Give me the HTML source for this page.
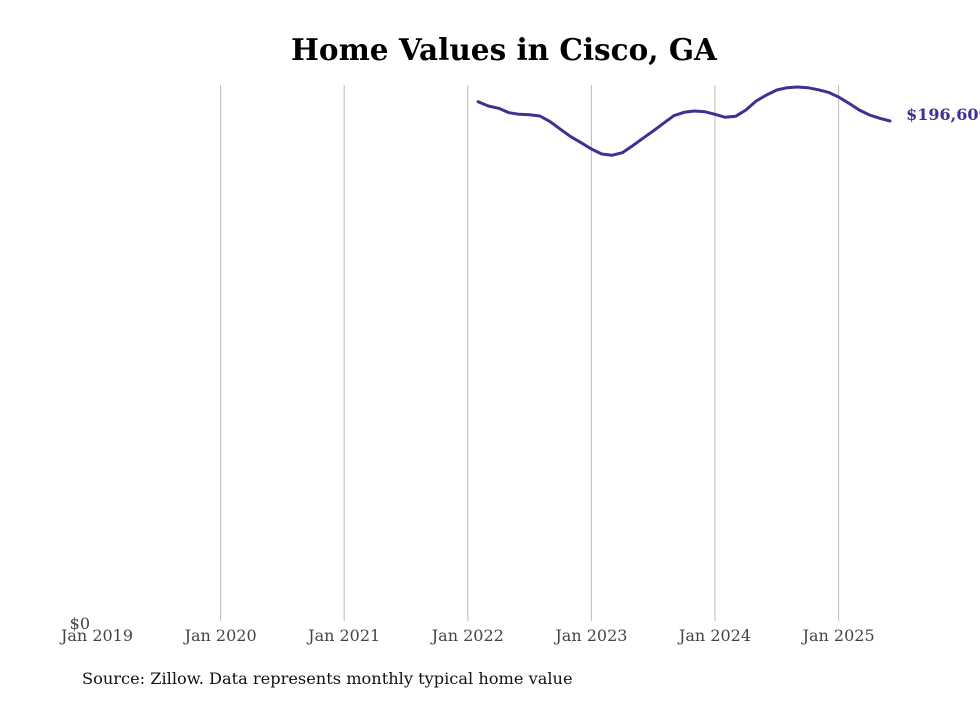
<!DOCTYPE html>
<html><head><meta charset="utf-8"><style>
body{margin:0;background:#fff;}
svg text{font-family:"DejaVu Serif","Liberation Serif",serif;}
</style></head><body>
<svg id="chart" width="980" height="699" viewBox="0 0 980 699" xmlns="http://www.w3.org/2000/svg">
<text x="504" y="60" text-anchor="middle" font-size="29.5" font-weight="bold" fill="#000">Home Values in Cisco, GA</text>
<g id="grid"></g>
<g id="xticks"></g>
<text x="90" y="629" text-anchor="end" font-size="16" fill="#444">$0</text>
<path id="line" fill="none" stroke="#3b3293" stroke-width="3" stroke-linejoin="round" stroke-linecap="round"/>
<text id="endlabel" font-size="16" font-weight="bold" fill="#3b3293"></text>
<text x="82" y="684" font-size="16.2" fill="#111">Source: Zillow. Data represents monthly typical home value</text>
</svg>
<script>
const tickLabels = ["Jan 2019","Jan 2020","Jan 2021","Jan 2022","Jan 2023","Jan 2024","Jan 2025"];
const startMonthIndex = 37; // Feb 2022, months since Jan 2019
const values = [204190,202500,201590,199860,199230,199080,198570,196320,193340,190430,188070,185590,183620,183110,184140,186890,189800,192670,195700,198690,200020,200530,200260,199230,198060,198450,200930,204460,206820,208790,209700,209970,209700,208910,207880,206040,203560,200930,198960,197660,196609];
const endLabel = "$196,609";
const yMax = 210750;
const x0 = 97, monthPx = 123.6/12, yBottom = 621, yTop = 85;
const xS = m => x0 + m*monthPx;
const yS = v => yBottom - (v/yMax)*(yBottom-yTop);
const ns = "http://www.w3.org/2000/svg";
const grid = document.getElementById('grid'), xt = document.getElementById('xticks');
tickLabels.forEach((t,i)=>{
  const x = xS(i*12);
  if(i>0){
    const l = document.createElementNS(ns,'line');
    
    
    l.setAttribute('x1',x);l.setAttribute('x2',x);l.setAttribute('y1',yTop);l.setAttribute('y2',yBottom);
    l.setAttribute('stroke','#bbb');l.setAttribute('stroke-width','1');
    grid.appendChild(l);
  }
  const tx = document.createElementNS(ns,'text');
  
  
  tx.setAttribute('x',x);tx.setAttribute('y',641);tx.setAttribute('text-anchor','middle');
  tx.setAttribute('font-size','16');tx.setAttribute('fill','#444');
  tx.textContent = t; xt.appendChild(tx);
});
let d = values.map((v,i)=>(i?'L':'M')+xS(startMonthIndex+i).toFixed(1)+','+yS(v).toFixed(1)).join(' ');
document.getElementById('line').setAttribute('d',d);
const el = document.getElementById('endlabel');
const li = values.length-1;
el.setAttribute('x', xS(startMonthIndex+li)+16);
el.setAttribute('y', yS(values[li])-1);
el.textContent = endLabel;
</script>
</body></html>
